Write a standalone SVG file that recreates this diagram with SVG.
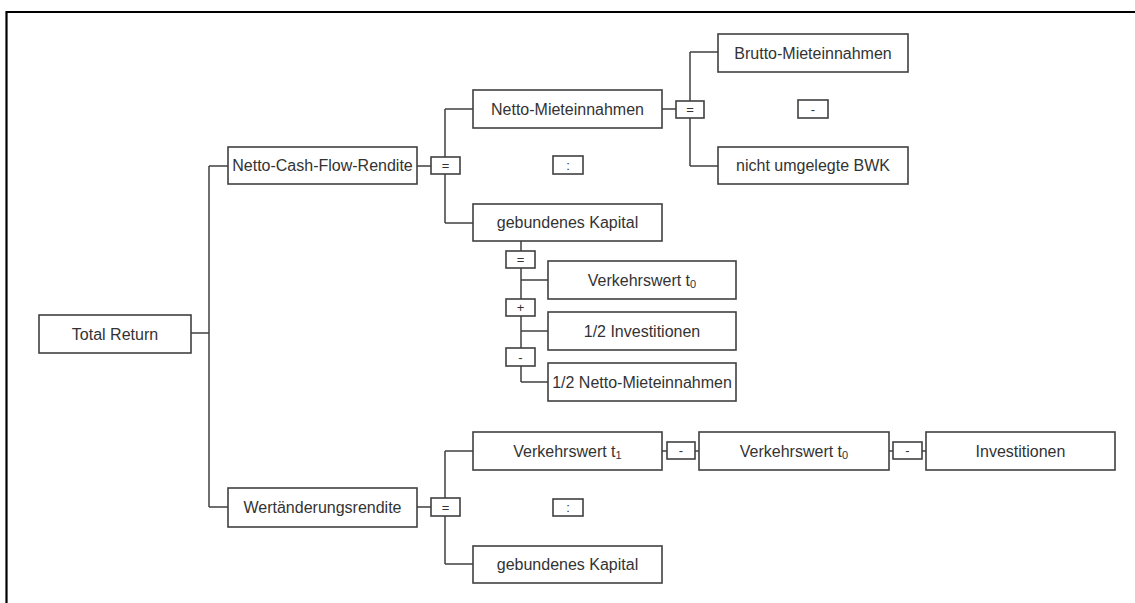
<svg xmlns="http://www.w3.org/2000/svg" width="1135" height="603" viewBox="0 0 1135 603">
<style>
.n rect{fill:#fff;stroke:#404040;stroke-width:1.6}
.n text{font-family:"Liberation Sans",Arial,sans-serif;font-size:16px;fill:#333;text-anchor:middle;dominant-baseline:central}
.op rect{fill:#fff;stroke:#404040;stroke-width:1.6}
.op text{font-family:"Liberation Sans",Arial,sans-serif;font-size:13px;fill:#333;text-anchor:middle;dominant-baseline:central}
.c path{fill:none;stroke:#404040;stroke-width:1.5}
.sub{font-size:11px}
</style>
<rect width="1135" height="603" fill="#fff"/>
<path d="M6.5,603 V12 H1135" fill="none" stroke="#000" stroke-width="2.2"/>
<g id="connectors" class="c">
<path d="M191,333 H209 M209,166 V507 M209,166 H228 M209,507 H228"/>
<path d="M417,166 H431 M445,109 V157 M445,174 V223 M445,109 H473 M445,223 H473"/>
<path d="M662,109 H676 M690,52 V101 M690,118 V166 M690,52 H718 M690,166 H718"/>
<path d="M521,241 V251 M521,268 V299 M521,316 V348 M521,366 V382 M521,280 H548 M521,331 H548 M521,382 H548"/>
<path d="M417,507 H431 M445,451 V498 M445,516 V564 M445,451 H473 M445,564 H473"/>
<path d="M662,451 H667 M695,451 H699 M889,451 H893 M922,451 H926"/>
</g>
<g id="total-return" class="n"><rect x="39" y="315" width="152" height="38"/><text x="115" y="334">Total Return</text></g>
<g id="ncf-rendite" class="n"><rect x="228" y="147" width="189" height="37"/><text x="322.5" y="165.5">Netto-Cash-Flow-Rendite</text></g>
<g id="wert-rendite" class="n"><rect x="228" y="488" width="189" height="39"/><text x="322.5" y="507.5">Wertänderungsrendite</text></g>
<g id="op-eq1" class="op"><rect x="431" y="157" width="29" height="17"/><text x="445.5" y="165.5">=</text></g>
<g id="netto-mieteinnahmen" class="n"><rect x="473" y="90" width="189" height="38"/><text x="567.5" y="109">Netto-Mieteinnahmen</text></g>
<g id="op-div1" class="op"><rect x="553" y="156" width="30" height="18"/><text x="568" y="165">:</text></g>
<g id="gebundenes-kapital1" class="n"><rect x="473" y="204" width="189" height="37"/><text x="567.5" y="222.5">gebundenes Kapital</text></g>
<g id="op-eq2" class="op"><rect x="676" y="101" width="28" height="17"/><text x="690" y="109.5">=</text></g>
<g id="brutto" class="n"><rect x="718" y="34" width="190" height="38"/><text x="813" y="53">Brutto-Mieteinnahmen</text></g>
<g id="op-minus1" class="op"><rect x="798" y="100" width="30" height="18"/><text x="813" y="109">-</text></g>
<g id="bwk" class="n"><rect x="718" y="147" width="190" height="37"/><text x="813" y="165.5">nicht umgelegte BWK</text></g>
<g id="op-eq3" class="op"><rect x="506" y="251" width="29" height="17"/><text x="520.5" y="259.5">=</text></g>
<g id="verkehrswert-t0-a" class="n"><rect x="548" y="261" width="188" height="38"/><text x="642" y="280">Verkehrswert t<tspan class="sub" dy="4">0</tspan></text></g>
<g id="op-plus" class="op"><rect x="506" y="299" width="29" height="17"/><text x="520.5" y="307.5">+</text></g>
<g id="halb-investitionen" class="n"><rect x="548" y="312" width="188" height="38"/><text x="642" y="331">1/2 Investitionen</text></g>
<g id="op-minus2" class="op"><rect x="506" y="348" width="29" height="18"/><text x="520.5" y="357">-</text></g>
<g id="halb-nmi" class="n"><rect x="548" y="363" width="188" height="38"/><text x="642" y="382">1/2 Netto-Mieteinnahmen</text></g>
<g id="op-eq4" class="op"><rect x="431" y="498" width="29" height="18"/><text x="445.5" y="507">=</text></g>
<g id="verkehrswert-t1" class="n"><rect x="473" y="432" width="189" height="38"/><text x="567.5" y="451">Verkehrswert t<tspan class="sub" dy="4">1</tspan></text></g>
<g id="op-div2" class="op"><rect x="553" y="499" width="30" height="17"/><text x="568" y="507.5">:</text></g>
<g id="gebundenes-kapital2" class="n"><rect x="473" y="546" width="189" height="37"/><text x="567.5" y="564.5">gebundenes Kapital</text></g>
<g id="op-minus3" class="op"><rect x="667" y="442" width="28" height="17"/><text x="681" y="450.5">-</text></g>
<g id="verkehrswert-t0-b" class="n"><rect x="699" y="432" width="190" height="38"/><text x="794" y="451">Verkehrswert t<tspan class="sub" dy="4">0</tspan></text></g>
<g id="op-minus4" class="op"><rect x="893" y="442" width="29" height="17"/><text x="907.5" y="450.5">-</text></g>
<g id="investitionen" class="n"><rect x="926" y="432" width="189" height="38"/><text x="1020.5" y="451">Investitionen</text></g>
</svg>
